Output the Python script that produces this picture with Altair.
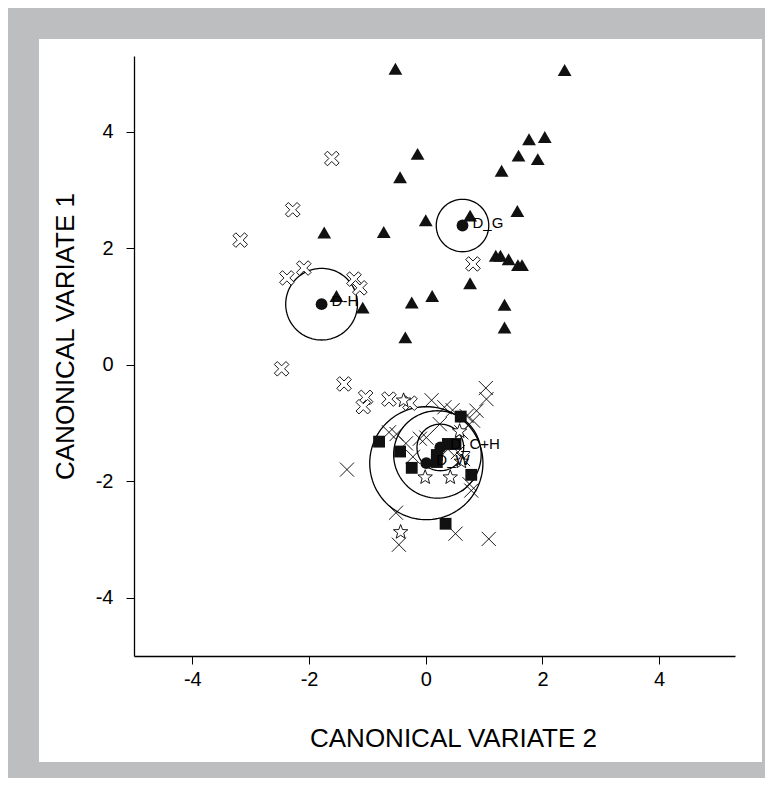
import math
import altair as alt
import pandas as pd

# ---------------- data ----------------
# group G : filled triangles
g_x = [-0.52, 2.38, 2.04, 1.77, 1.92, 1.59, 1.30, -0.14, -0.44, 1.57, 0.00, -0.72, -1.74,
       0.76, 1.20, 1.28, 1.42, 1.58, 1.65, 0.76, 0.11, -0.24, 1.35, 1.35, -0.35, -1.53, -1.08]
g_y = [5.08, 5.06, 3.91, 3.87, 3.53, 3.59, 3.33, 3.62, 3.22, 2.64, 2.48, 2.28, 2.27,
       2.56, 1.87, 1.87, 1.81, 1.71, 1.71, 1.40, 1.18, 1.07, 1.03, 0.64, 0.47, 1.18, 0.98]

# group H : hollow crosses
h_x = [-1.61, -2.28, -3.18, -2.38, -2.09, -1.23, -1.13, 0.81, -2.47, -1.40, -1.03, -1.07, -0.63, -0.27]
h_y = [3.54, 2.66, 2.14, 1.49, 1.66, 1.47, 1.32, 1.73, -0.07, -0.33, -0.56, -0.72, -0.59, -0.66]

# group C : thin crosses
c_x = [-1.35, 0.10, 1.03, 1.04, 0.87, 0.81, 0.32, 0.46, -0.63, -0.50, -0.34, -0.22, 0.24,
       0.61, 0.75, 0.78, -0.51, 0.51, 1.08, -0.46, -0.10, 0.01, 0.64, 0.70, 0.55, 0.38]
c_y = [-1.80, -0.61, -0.40, -0.59, -0.79, -0.96, -0.73, -0.78, -1.16, -1.19, -1.35, -1.58, -1.02,
       -1.16, -2.05, -2.16, -2.54, -2.90, -2.99, -3.09, -1.27, -1.25, -1.62, -0.88, -1.50, -1.45]

# group B : filled squares
b_x = [0.60, -0.80, -0.44, -0.24, 0.78, 0.34, 0.38, 0.51, 0.19, 0.19]
b_y = [-0.89, -1.32, -1.49, -1.77, -1.89, -2.73, -1.36, -1.36, -1.55, -1.67]

# group W : hollow stars
w_x = [-0.38, 0.58, -0.01, 0.42, -0.43, 0.61]
w_y = [-0.60, -1.13, -1.92, -1.92, -2.86, -1.65]

# group centroids with their circles
cen_label = ["D-H", "D_G", "D_C+H", "", "D_W"]
cen_x = [-1.785, 0.63, 0.25, 0.20, 0.01]
cen_y = [1.04, 2.39, -1.42, -1.54, -1.69]
cen_r = [0.615, 0.45, 0.40, 0.75, 0.97]

x_ticks = [-4, -2, 0, 2, 4]
y_ticks = [-4, -2, 0, 2, 4]

# ---------------- shapes ----------------
def fmt(pts):
    return "M" + "L".join(f"{x:.3f},{y:.3f}" for x, y in pts) + "Z"

a, L = 0.33, 1.3
plus = [(a, -L), (a, -a), (L, -a), (L, a), (a, a), (a, L), (-a, L), (-a, a), (-L, a), (-L, -a), (-a, -a), (-a, -L)]
s2 = math.sqrt(2)
xpath = fmt([((px - py) / s2, (px + py) / s2) for px, py in plus])
star = []
for k in range(10):
    rr = 1.0 if k % 2 == 0 else 0.42
    ang = -math.pi / 2 + k * math.pi / 5
    star.append((rr * math.cos(ang), rr * math.sin(ang) + 0.1))
starpath = fmt(star)
thinx = "M-1,-1L1,1M-1,1L1,-1"

# ---------------- tables ----------------
df_g = pd.DataFrame({"x": g_x, "y": g_y})
df_h = pd.DataFrame({"x": h_x, "y": h_y})
df_c = pd.DataFrame({"x": c_x, "y": c_y})
df_b = pd.DataFrame({"x": b_x, "y": b_y})
df_w = pd.DataFrame({"x": w_x, "y": w_y})
df_cen = pd.DataFrame({"x": cen_x, "y": cen_y, "label": cen_label})

rows = []
for i, (cx, cy, r) in enumerate(zip(cen_x, cen_y, cen_r)):
    for k in range(121):
        t = 2 * math.pi * k / 120
        rows.append({"c": i, "k": k, "x": cx + r * math.cos(t), "y": cy + r * math.sin(t)})
df_circ = pd.DataFrame(rows)

XD = [-5, 5.3]
YD = [-5, 5.3]
FONT = "Liberation Sans"
LBL = "datum.value + ''"

xenc = alt.X("x:Q", scale=alt.Scale(domain=XD, nice=False, zero=False),
             axis=alt.Axis(values=x_ticks, labelExpr=LBL, title="CANONICAL VARIATE 2", grid=False, zindex=2,
                           domainColor="black", domainWidth=1.3, tickColor="black", tickSize=8,
                           labelFontSize=20, labelFont=FONT, labelColor="black", labelPadding=5,
                           titleFont=FONT, titleFontSize=26, titleFontWeight="normal",
                           titleColor="black", titlePadding=36, titleX=319))
yenc = alt.Y("y:Q", scale=alt.Scale(domain=YD, nice=False, zero=False),
             axis=alt.Axis(values=y_ticks, labelExpr=LBL, title="CANONICAL VARIATE 1", grid=False, zindex=2,
                           domainColor="black", domainWidth=1.3, tickColor="black", tickSize=8,
                           labelFontSize=20, labelFont=FONT, labelColor="black", labelPadding=13,
                           titleFont=FONT, titleFontSize=26, titleFontWeight="normal",
                           titleColor="black", titlePadding=17, titleY=280))
xs = alt.X("x:Q")
ys = alt.Y("y:Q")

panel = alt.Chart(pd.DataFrame({"p": [0]})).mark_rect(color="white").encode(
    x=alt.value(-95), x2=alt.value(628), y=alt.value(-17), y2=alt.value(706))

circles = alt.Chart(df_circ).mark_line(color="black", strokeWidth=1.3).encode(
    x=xenc, y=yenc, detail="c:N", order="k:Q")

thin = alt.Chart(df_c).mark_point(shape=thinx, size=200, color="black", strokeWidth=0.9,
                                  filled=False, opacity=1).encode(x=xs, y=ys)
hollow = alt.Chart(df_h).mark_point(shape=xpath, size=160, filled=True, color="white",
                                    stroke="black", strokeWidth=0.9, opacity=1).encode(x=xs, y=ys)
stars = alt.Chart(df_w).mark_point(shape=starpath, size=230, filled=True, color="white",
                                   stroke="black", strokeWidth=0.9, opacity=1).encode(x=xs, y=ys)
squares = alt.Chart(df_b).mark_square(size=140, color="#111111", opacity=1).encode(x=xs, y=ys)
tris = alt.Chart(df_g).mark_point(shape="triangle-up", size=190, filled=True, color="#111111",
                                  opacity=1).encode(x=xs, y=ys)
dots = alt.Chart(df_cen).mark_circle(size=140, color="#111111", opacity=1).encode(x=xs, y=ys)
labels = alt.Chart(df_cen).mark_text(align="left", baseline="middle", dx=10, dy=-3,
                                     fontSize=15, font=FONT, color="black").encode(
    x=xs, y=ys, text="label:N")

chart = alt.layer(panel, circles, thin, hollow, stars, squares, tris, dots, labels).properties(
    width=601, height=600,
    autosize=alt.AutoSizeParams(type="none"),
    padding={"left": 126, "top": 48, "right": 30, "bottom": 122},
    background="#bdbec0",
).configure_view(stroke=None)

chart.save("out.html", embed_options={"renderer": "svg", "actions": False})
